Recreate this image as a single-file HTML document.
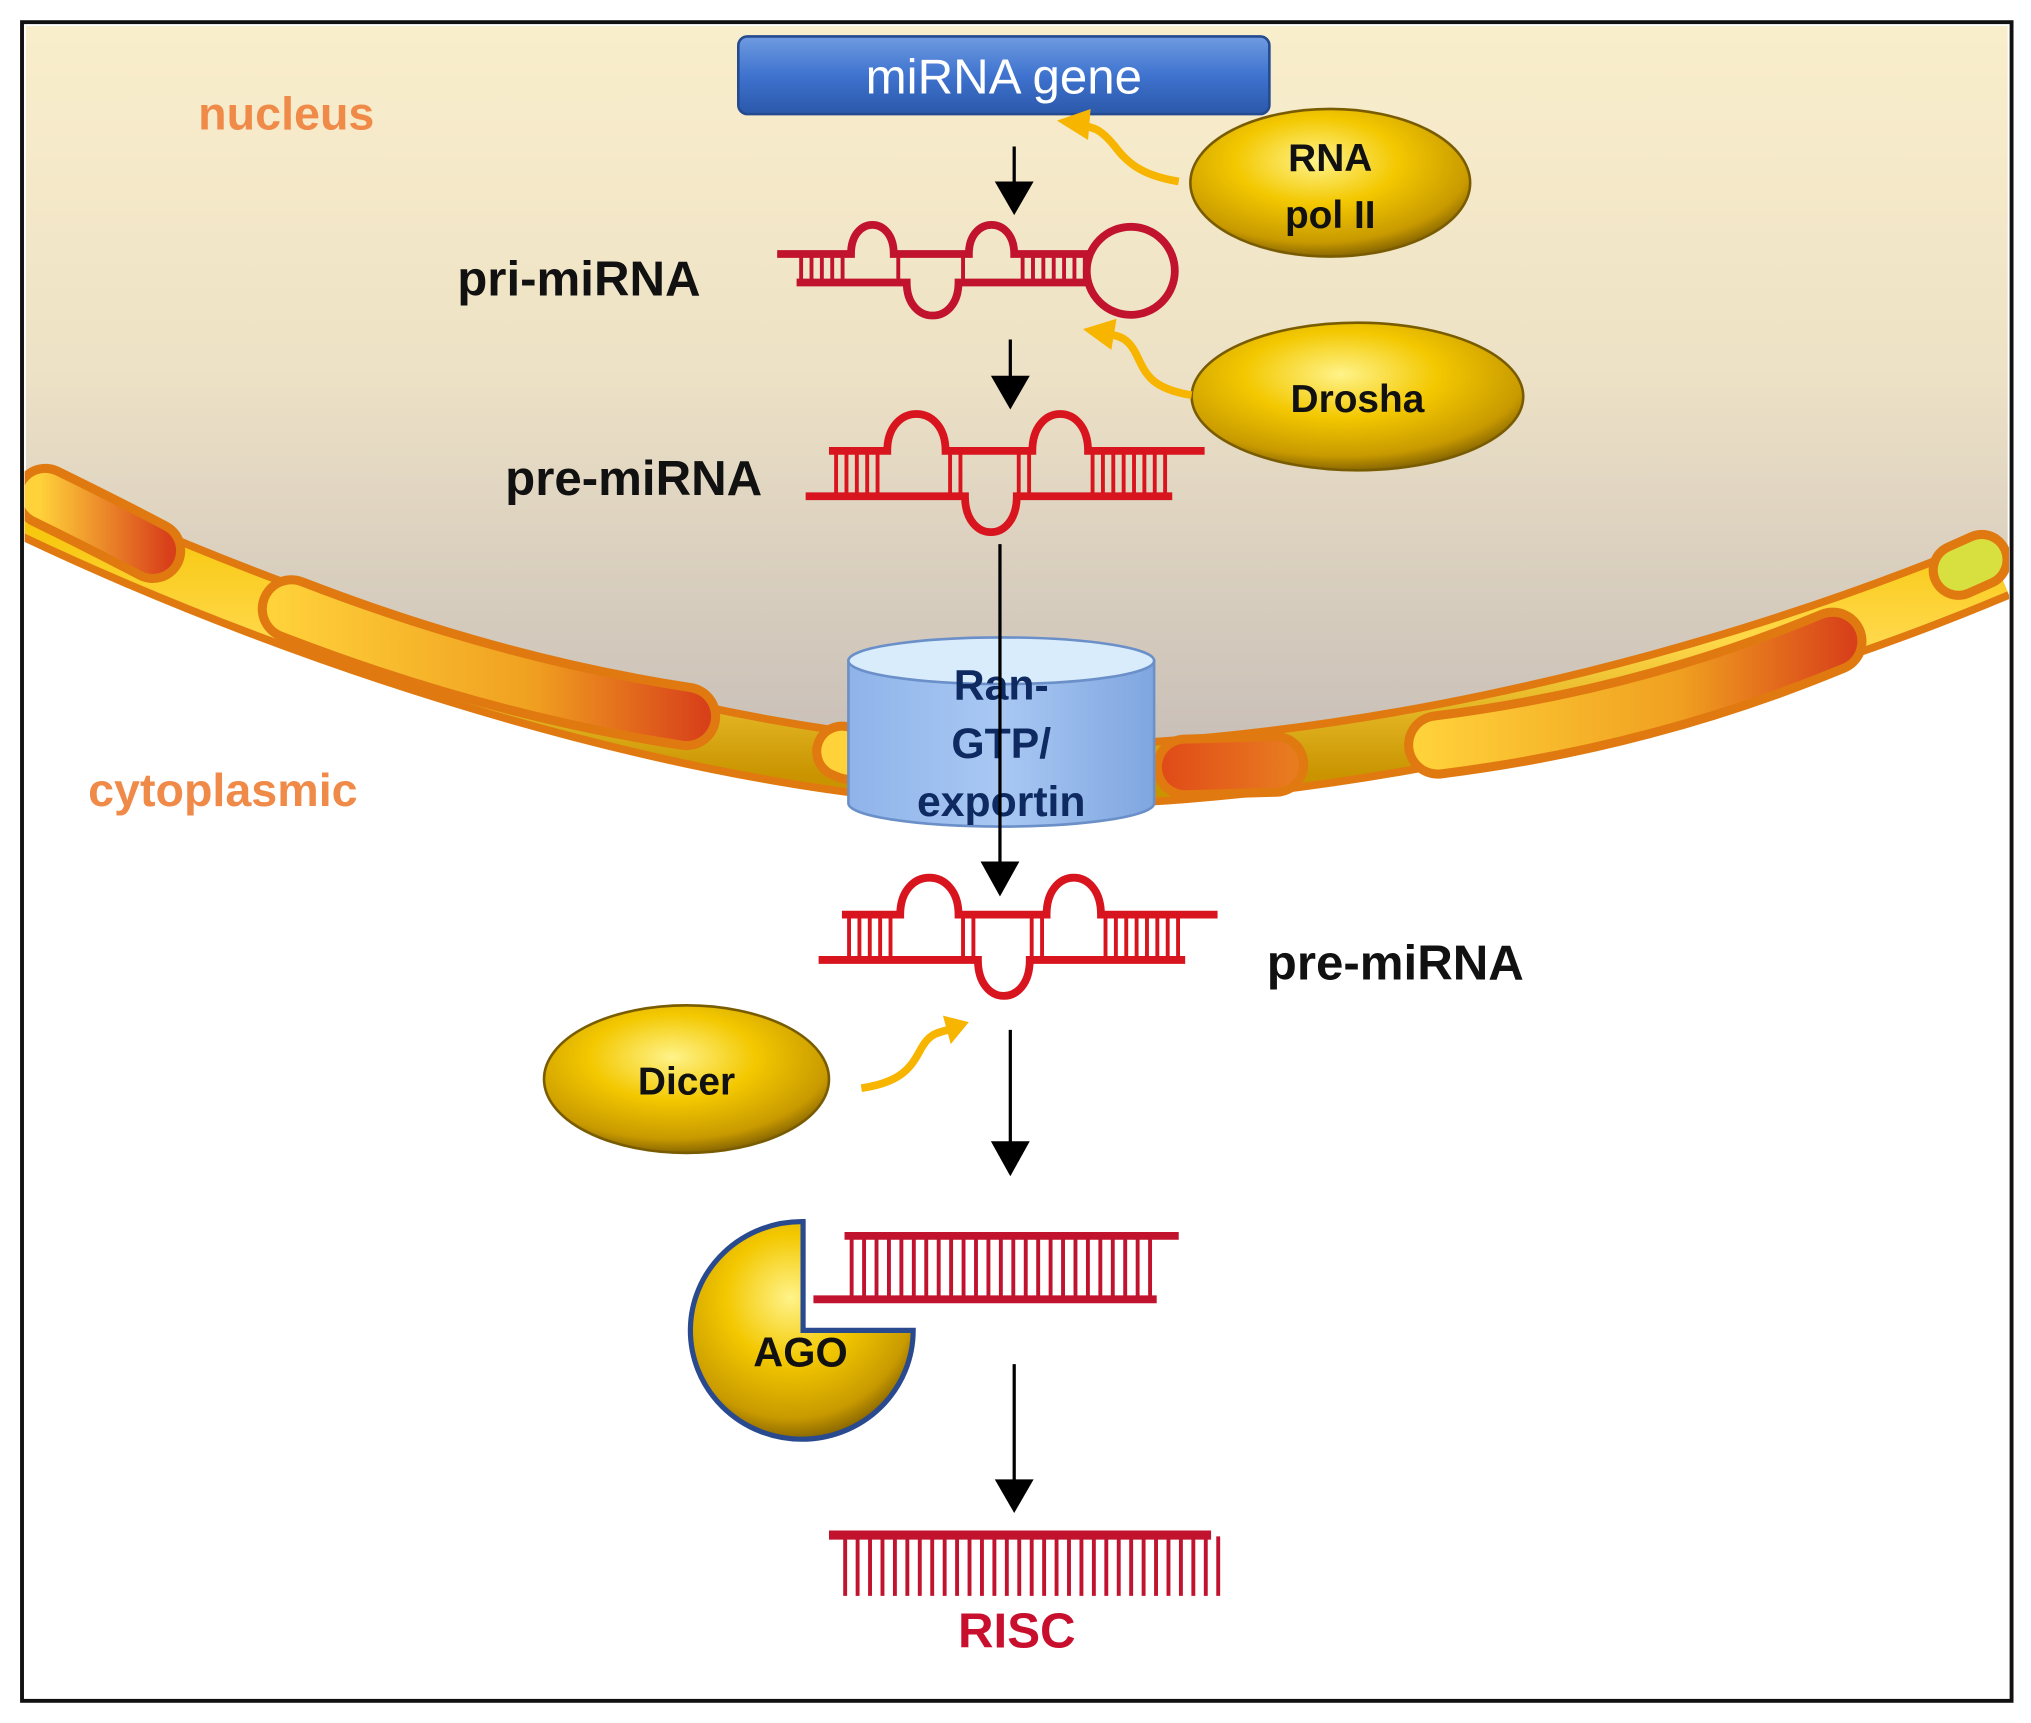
<!DOCTYPE html>
<html><head><meta charset="utf-8"><style>
html,body{margin:0;padding:0;background:#fff}
svg{display:block}
text{font-family:"Liberation Sans",sans-serif;font-weight:bold}
</style></head><body>
<svg width="2031" height="1723" viewBox="0 0 1568 1330" xmlns="http://www.w3.org/2000/svg">
<defs>
<clipPath id="fr"><rect x="19" y="19" width="1532" height="1292"/></clipPath>
<linearGradient id="nuc" x1="0" y1="0" x2="0" y2="1"><stop offset="0" stop-color="#f9eecb"/><stop offset="0.45" stop-color="#eee2c6"/><stop offset="1" stop-color="#c6bdb7"/></linearGradient>
<radialGradient id="gold" cx="0.45" cy="0.35" r="0.65"><stop offset="0" stop-color="#fff38a"/><stop offset="0.45" stop-color="#f3c800"/><stop offset="0.85" stop-color="#c99a00"/><stop offset="1" stop-color="#8a6800"/></radialGradient>
<linearGradient id="blue" x1="0" y1="0" x2="0" y2="1"><stop offset="0" stop-color="#6f9be0"/><stop offset="0.5" stop-color="#3f73cf"/><stop offset="1" stop-color="#2b58aa"/></linearGradient>
<linearGradient id="cyl" x1="0" y1="0" x2="1" y2="0"><stop offset="0" stop-color="#8fb4ea"/><stop offset="0.5" stop-color="#a9c8f3"/><stop offset="1" stop-color="#7fa6e0"/></linearGradient>
<linearGradient id="mem" x1="0" y1="0" x2="0" y2="1"><stop offset="0" stop-color="#f5c400"/><stop offset="0.5" stop-color="#ffd84a"/><stop offset="1" stop-color="#c99400"/></linearGradient>
<linearGradient id="s1" gradientUnits="userSpaceOnUse" x1="30" y1="0" x2="130" y2="0"><stop offset="0" stop-color="#ffd23a"/><stop offset="1" stop-color="#d8401a"/></linearGradient>
<linearGradient id="s2" gradientUnits="userSpaceOnUse" x1="210" y1="0" x2="545" y2="0"><stop offset="0" stop-color="#ffd23a"/><stop offset="0.6" stop-color="#f0a020"/><stop offset="1" stop-color="#d8401a"/></linearGradient>
<linearGradient id="s4" gradientUnits="userSpaceOnUse" x1="895" y1="0" x2="995" y2="0"><stop offset="0" stop-color="#e04a18"/><stop offset="1" stop-color="#e87a20"/></linearGradient>
<linearGradient id="s5" gradientUnits="userSpaceOnUse" x1="1095" y1="0" x2="1430" y2="0"><stop offset="0" stop-color="#ffd23a"/><stop offset="0.6" stop-color="#f0a020"/><stop offset="1" stop-color="#d8401a"/></linearGradient>
</defs>
<rect width="1568" height="1330" fill="#fff"/>
<g clip-path="url(#fr)">
<path d="M20,20 H1550 V430 C1300,530 1000,600 770,594 C550,586 250,495 20,385 Z" fill="url(#nuc)"/>
<path d="M20,390 C250,500 550,592 770,598 C1000,605 1300,540 1542,438" fill="none" stroke="#e07a10" stroke-width="52"/>
<path d="M20,390 C250,500 550,592 770,598 C1000,605 1300,540 1542,438" fill="none" stroke="url(#mem)" stroke-width="40"/>
<g stroke-linecap="round" fill="none">
<path d="M35,383 Q80,405 118,425" stroke="#e07a10" stroke-width="50"/>
<path d="M35,383 Q80,405 118,425" stroke="url(#s1)" stroke-width="36"/>
<path d="M225,470 Q380,530 530,553" stroke="#e07a10" stroke-width="52"/>
<path d="M225,470 Q380,530 530,553" stroke="url(#s2)" stroke-width="38"/>
<path d="M650,580 L655,582" stroke="#e07a10" stroke-width="46"/>
<path d="M650,580 L655,582" stroke="#ffd23a" stroke-width="32"/>
<path d="M915,592 L985,590" stroke="#e07a10" stroke-width="50"/>
<path d="M915,592 L985,590" stroke="url(#s4)" stroke-width="36"/>
<path d="M1110,575 Q1270,555 1415,495" stroke="#e07a10" stroke-width="52"/>
<path d="M1110,575 Q1270,555 1415,495" stroke="url(#s5)" stroke-width="38"/>
<path d="M1512,440 L1530,432" stroke="#e07a10" stroke-width="46"/>
<path d="M1512,440 L1530,432" stroke="#d8e040" stroke-width="32"/>
</g>
</g>
<rect x="17" y="17" width="1536" height="1296" fill="none" stroke="#111" stroke-width="3"/>
<text x="153" y="100" font-size="36" fill="#f08a48">nucleus</text>
<text x="68" y="622" font-size="36" fill="#f08a48">cytoplasmic</text>
<rect x="570" y="28" width="410" height="60" rx="7" fill="url(#blue)" stroke="#244a90" stroke-width="2"/>
<text x="775" y="72" font-size="38" fill="#fff" text-anchor="middle" style="font-weight:normal">miRNA gene</text>
<ellipse cx="1027" cy="141" rx="108" ry="57" fill="url(#gold)" stroke="#7a5c00" stroke-width="2"/>
<text x="1027" y="132" font-size="30" text-anchor="middle" fill="#111">RNA</text>
<text x="1027" y="176" font-size="30" text-anchor="middle" fill="#111">pol II</text>
<ellipse cx="1048" cy="306" rx="128" ry="57" fill="url(#gold)" stroke="#7a5c00" stroke-width="2"/>
<text x="1048" y="318" font-size="30" text-anchor="middle" fill="#111">Drosha</text>
<ellipse cx="530" cy="833" rx="110" ry="57" fill="url(#gold)" stroke="#7a5c00" stroke-width="2"/>
<text x="530" y="845" font-size="30" text-anchor="middle" fill="#111">Dicer</text>
<g fill="none" stroke="#f7b500" stroke-width="6">
<path d="M910,140 C880,135 870,125 860,112 C850,100 845,98 832,96"/>
<path d="M920,305 C890,300 885,290 878,275 C872,262 865,258 852,258"/>
<path d="M665,840 C700,835 705,820 712,808 C718,798 724,797 732,795"/>
</g>
<g fill="#f7b500">
<polygon points="816,93 842,84 840,108"/>
<polygon points="836,254 862,246 858,270"/>
<polygon points="748,789 728,784 734,806"/>
</g>
<g stroke="#000" stroke-width="2.5">
<line x1="783" y1="113" x2="783" y2="150"/>
<line x1="780" y1="262" x2="780" y2="295"/>
<line x1="780" y1="795" x2="780" y2="885"/>
<line x1="783" y1="1053" x2="783" y2="1145"/>
</g>
<g fill="#000">
<polygon points="768,140 798,140 783,166"/>
<polygon points="765,290 795,290 780,316"/>
<polygon points="757,665 787,665 772,692"/>
<polygon points="765,881 795,881 780,908"/>
<polygon points="768,1142 798,1142 783,1168"/>
</g>
<!-- pri-miRNA -->
<g fill="none" stroke="#c1122e" stroke-width="6">
<path d="M600,196 H657 C657,166 690,166 690,196 H748 C748,166 783,166 783,196 H842"/>
<path d="M615,218 H700 C700,252 740,252 740,218 H842"/>
<circle cx="873" cy="209" r="34"/>
</g>
<g stroke="#c1122e" stroke-width="22" stroke-dasharray="3 5">
<line x1="617" y1="207" x2="655" y2="207"/>
<line x1="692" y1="207" x2="700" y2="207"/>
<line x1="742" y1="207" x2="748" y2="207"/>
<line x1="788" y1="207" x2="840" y2="207"/>
</g>
<!-- pre-miRNA 1 -->
<g fill="none" stroke="#d8141e" stroke-width="6">
<path d="M640,348 H685 C685,310 730,310 730,348 H797 C797,310 840,310 840,348 H930"/>
<path d="M622,383 H745 C745,420 785,420 785,383 H905"/>
</g>
<g stroke="#d8141e" stroke-width="32" stroke-dasharray="3 5">
<line x1="644" y1="366" x2="682" y2="366"/>
<line x1="732" y1="366" x2="745" y2="366"/>
<line x1="785" y1="366" x2="797" y2="366"/>
<line x1="842" y1="366" x2="905" y2="366"/>
</g>
<text x="390" y="382" font-size="38" fill="#111">pre-miRNA</text>
<text x="353" y="228" font-size="38" fill="#111">pri-miRNA</text>
<path d="M655,510 V620 A118,18 0 0 0 891,620 V510 Z" fill="url(#cyl)" stroke="#6b8fc8" stroke-width="2"/>
<ellipse cx="773" cy="510" rx="118" ry="18" fill="#d8ecfb" stroke="#6b8fc8" stroke-width="2"/>
<g font-size="33" fill="#0e2a60" text-anchor="middle">
<text x="773" y="540">Ran-</text>
<text x="773" y="585">GTP/</text>
<text x="773" y="630">exportin</text>
</g>
<line x1="772" y1="420" x2="772" y2="670" stroke="#000" stroke-width="2.5"/>
<!-- pre-miRNA 2 -->
<g fill="none" stroke="#d8141e" stroke-width="6">
<path d="M650,706 H695 C695,668 740,668 740,706 H808 C808,668 850,668 850,706 H940"/>
<path d="M632,741 H755 C755,778 795,778 795,741 H915"/>
</g>
<g stroke="#d8141e" stroke-width="32" stroke-dasharray="3 5">
<line x1="654" y1="724" x2="692" y2="724"/>
<line x1="742" y1="724" x2="755" y2="724"/>
<line x1="795" y1="724" x2="808" y2="724"/>
<line x1="852" y1="724" x2="915" y2="724"/>
</g>
<text x="978" y="756" font-size="38" fill="#111">pre-miRNA</text>
<path d="M620,1027 V943 A86,84 0 1 0 705,1027 Z" fill="url(#gold)" stroke="#2a4a90" stroke-width="4"/>
<text x="618" y="1055" font-size="32" text-anchor="middle" fill="#111">AGO</text>
<g stroke="#c1122e">
<line x1="652" y1="954" x2="910" y2="954" stroke-width="6"/>
<line x1="628" y1="1003" x2="893" y2="1003" stroke-width="6"/>
<line x1="656" y1="978" x2="893" y2="978" stroke-width="48" stroke-dasharray="3 6.6"/>
</g>
<g stroke="#c1122e">
<line x1="640" y1="1185" x2="935" y2="1185" stroke-width="7"/>
<line x1="651" y1="1209" x2="942" y2="1209" stroke-width="46" stroke-dasharray="3 6.6"/>
</g>
<text x="785" y="1272" font-size="38" text-anchor="middle" fill="#c8102e">RISC</text>
</svg>
</body></html>
